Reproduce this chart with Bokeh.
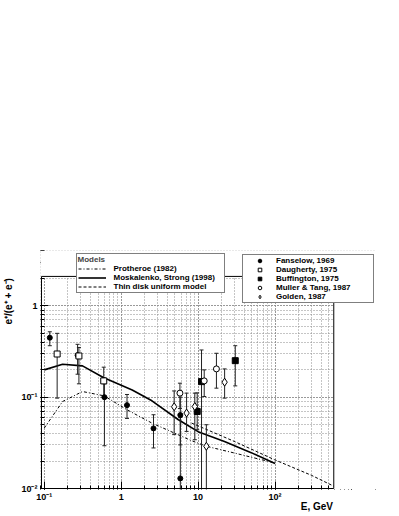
import numpy as np
from bokeh.plotting import figure
from bokeh.models import (Legend, LegendItem, CustomJSTickFormatter, BoxAnnotation,
                          LogAxis, FixedTicker)
from bokeh.embed import file_html
from bokeh.resources import INLINE

FONT = "Liberation Sans"

# ---- model curves ----
prot_E = [0.1, 0.173, 0.314, 0.6, 1.19, 2.5, 8.2, 12.8, 36, 100]
prot_v = [0.0459, 0.0896, 0.1153, 0.1034, 0.0728, 0.0521, 0.0334, 0.0290, 0.0235, 0.0190]

mosk_E = [0.1, 0.173, 0.314, 0.586, 1.39, 2.51, 5.55, 10, 22, 49, 100]
mosk_v = [0.199, 0.2295, 0.220, 0.164, 0.120, 0.0912, 0.0566, 0.0419, 0.0328, 0.0247, 0.0188]

thin_E = [8.2, 30, 98, 300, 580]
thin_v = [0.0521, 0.0326, 0.0207, 0.0139, 0.0106]

# ---- data sets: energy, value, lower, upper ----
fans_E = [0.118, 0.271, 0.605, 1.19, 2.63, 5.87, 5.87]
fans_v = [0.448, 0.2875, 0.100, 0.0818, 0.0455, 0.0637, 0.0129]
fans_lo = [0.366, 0.1784, 0.0294, 0.0585, 0.0278, 0.030, 0.009]
fans_hi = [0.520, 0.379, 0.140, 0.107, 0.0642, 0.100, 0.060]

daug_E = [0.147, 0.282, 0.593]
daug_v = [0.297, 0.2826, 0.1508]
daug_lo = [0.0976, 0.140, 0.100]
daug_hi = [0.500, 0.350, 0.213]

buff_E = [9.73, 11.07, 30.4]
buff_v = [0.0697, 0.148, 0.251]
buff_lo = [0.044, 0.009, 0.133]
buff_hi = [0.1115, 0.3286, 0.366]

mull_E = [5.80, 12.0, 17.3]
mull_v = [0.1107, 0.1508, 0.204]
mull_lo = [0.075, 0.1017, 0.1255]
mull_hi = [0.1423, 0.199, 0.3024]

gold_E = [4.88, 7.08, 9.06, 12.8, 22.1]
gold_v = [0.0785, 0.067, 0.079, 0.0290, 0.146]
gold_lo = [0.0389, 0.0422, 0.0342, 0.009, 0.0976]
gold_hi = [0.117, 0.1107, 0.1107, 0.0499, 0.204]

model_labels = ["Protheroe (1982)", "Moskalenko, Strong (1998)", "Thin disk uniform model"]
data_labels = ["Fanselow, 1969", "Daugherty, 1975", "Buffington, 1975", "Muller & Tang, 1987", "Golden, 1987"]
x_title = "E, GeV"
y_title = "e\u207a/(e\u207a + e\u207b)"

# axis limits of the drawn ROOT frame
X_MIN, X_MAX = 0.092, 580
Y_MIN, Y_MAX = 0.01, 2.1

# pixel geometry: real frame is 294 x 213 px; the Bokeh frame is enlarged so the
# legends (which overlap the frame edge) are not clipped
PX_DEC_X, PX_DEC_Y = 77.4, 91.65
EXT_L, EXT_R, EXT_T, EXT_B = 1, 43, 26, 1
xr0 = 10 ** (np.log10(X_MIN) - EXT_L / PX_DEC_X)
xr1 = 10 ** (np.log10(X_MAX) + EXT_R / PX_DEC_X)
yr0 = 10 ** (np.log10(Y_MIN) - EXT_B / PX_DEC_Y)
yr1 = 10 ** (np.log10(Y_MAX) + EXT_T / PX_DEC_Y)

p = figure(width=397, height=514, x_axis_type="log", y_axis_type="log",
           x_range=(xr0, xr1), y_range=(yr0, yr1),
           output_backend="svg", toolbar_location=None,
           min_border_left=38, min_border_right=21, min_border_top=250, min_border_bottom=24)
p.background_fill_color = "white"
p.border_fill_color = "white"
p.outline_line_color = None

fmt = CustomJSTickFormatter(code="""
const e = Math.round(Math.log10(tick));
if (e >= 3) return "";
if (e == 0) return "1";
if (e == 1) return "10";
const m = {"-": "\u207b", "0": "\u2070", "1": "\u00b9", "2": "\u00b2", "3": "\u00b3"};
return "10" + String(e).split("").map(c => m[c]).join("");
""")
for ax in (p.xaxis[0], p.yaxis[0]):
    ax.major_tick_in = 8
    ax.major_tick_out = 0
    ax.minor_tick_in = 4
    ax.minor_tick_out = 0
    ax.axis_line_color = None
    ax.major_tick_line_color = "black"
    ax.minor_tick_line_color = "black"
    ax.major_label_text_font = FONT
    ax.major_label_text_font_style = "bold"
    ax.major_label_text_font_size = "9px"
    ax.major_label_text_color = "black"
    ax.formatter = fmt
p.xaxis.major_label_standoff = 2
p.yaxis.major_label_standoff = 3

for g in (p.xgrid[0], p.ygrid[0]):
    g.grid_line_color = "#8a8a8a"
    g.grid_line_dash = "1 2"
    g.grid_line_width = 1
    g.minor_grid_line_color = "#8a8a8a"
    g.minor_grid_line_dash = "1 2"
    g.minor_grid_line_width = 1

# axis titles as single-tick secondary axes (ROOT style: right / top aligned)
x_title_pos = 10 ** (np.log10(X_MAX) - 17 / PX_DEC_X)
y_title_pos = 10 ** (np.log10(Y_MAX) - 25 / PX_DEC_Y)
ax2 = LogAxis(ticker=FixedTicker(ticks=[x_title_pos], minor_ticks=[]),
              formatter=CustomJSTickFormatter(code='return "%s";' % x_title))
ay2 = LogAxis(ticker=FixedTicker(ticks=[y_title_pos], minor_ticks=[]),
              formatter=CustomJSTickFormatter(code='return "%s";' % y_title),
              major_label_orientation="vertical")
for a in (ax2, ay2):
    a.axis_line_color = None
    a.major_tick_line_color = None
    a.minor_tick_line_color = None
    a.major_tick_in = 0
    a.major_tick_out = 0
    a.minor_tick_in = 0
    a.minor_tick_out = 0
    a.major_label_text_font = FONT
    a.major_label_text_font_style = "bold"
    a.major_label_text_font_size = "10px"
    a.major_label_text_color = "black"
ax2.major_label_standoff = -4
ay2.major_label_standoff = 4
p.add_layout(ax2, "below")
p.add_layout(ay2, "left")

# model curves
r_prot = p.line(prot_E, prot_v, line_color="black", line_width=1, line_dash="3 2 1 2")
r_mosk = p.line(mosk_E, mosk_v, line_color="black", line_width=1.6)
r_thin = p.line(thin_E, thin_v, line_color="black", line_width=1, line_dash="3 2")

# error bars
def errbars(E, lo, hi):
    p.segment(x0=E, y0=lo, x1=E, y1=hi, line_color="#222222", line_width=1)
    p.scatter(E, lo, marker="dash", size=4, line_color="#222222", line_width=1)
    p.scatter(E, hi, marker="dash", size=4, line_color="#222222", line_width=1)

errbars(fans_E, fans_lo, fans_hi)
errbars(daug_E, daug_lo, daug_hi)
errbars(buff_E, buff_lo, buff_hi)
errbars(mull_E, mull_lo, mull_hi)
errbars(gold_E, gold_lo, gold_hi)

r_fans = p.scatter(fans_E, fans_v, marker="circle", size=5, fill_color="black", line_color="black")
r_daug = p.scatter(daug_E, daug_v, marker="square", size=6, fill_color="white", line_color="black")
r_buff = p.scatter(buff_E, buff_v, marker="square", size=6, fill_color="black", line_color="black")
r_mull = p.scatter(mull_E, mull_v, marker="circle", size=6, fill_color="white", line_color="black")
r_gold = p.scatter(gold_E, gold_v, marker="diamond", size=8, fill_color="white", line_color="black")

# white masks outside the real frame, then the frame itself
p.add_layout(BoxAnnotation(bottom=Y_MAX, fill_color="white", fill_alpha=1, line_color=None))
p.add_layout(BoxAnnotation(left=X_MAX, fill_color="white", fill_alpha=1, line_color=None))
p.add_layout(BoxAnnotation(left=X_MIN, right=X_MAX, bottom=Y_MIN, top=Y_MAX,
                           fill_alpha=0, line_color="black", line_width=1, line_alpha=1))

def style_legend(leg):
    leg.border_line_color = "black"
    leg.border_line_width = 1
    leg.background_fill_color = "white"
    leg.background_fill_alpha = 1
    leg.label_text_font = FONT
    leg.label_text_font_style = "bold"
    leg.label_text_font_size = "8px"
    leg.label_text_color = "black"
    leg.label_text_line_height = 1.0
    leg.glyph_height = 9
    leg.label_height = 9
    leg.spacing = 0
    leg.padding = 1
    leg.margin = 0
    leg.title_text_font = FONT
    leg.title_text_font_style = "bold"
    leg.title_text_font_size = "8px"
    leg.title_text_line_height = 1.0
    leg.title_standoff = 0

leg1 = Legend(items=[LegendItem(label=model_labels[0], renderers=[r_prot]),
                     LegendItem(label=model_labels[1], renderers=[r_mosk]),
                     LegendItem(label=model_labels[2], renderers=[r_thin])],
              location=(35.5, 196.5), title="Models")
style_legend(leg1)
leg1.glyph_width = 28
leg1.label_standoff = 8
leg1.label_width = 109

leg2 = Legend(items=[LegendItem(label=data_labels[0], renderers=[r_fans]),
                     LegendItem(label=data_labels[1], renderers=[r_daug]),
                     LegendItem(label=data_labels[2], renderers=[r_buff]),
                     LegendItem(label=data_labels[3], renderers=[r_mull]),
                     LegendItem(label=data_labels[4], renderers=[r_gold])],
              location=(202, 186))
style_legend(leg2)
leg2.glyph_width = 31
leg2.label_standoff = 1
leg2.label_width = 96
p.add_layout(leg1)
p.add_layout(leg2)

open("out.html", "w").write(file_html(p, INLINE))
